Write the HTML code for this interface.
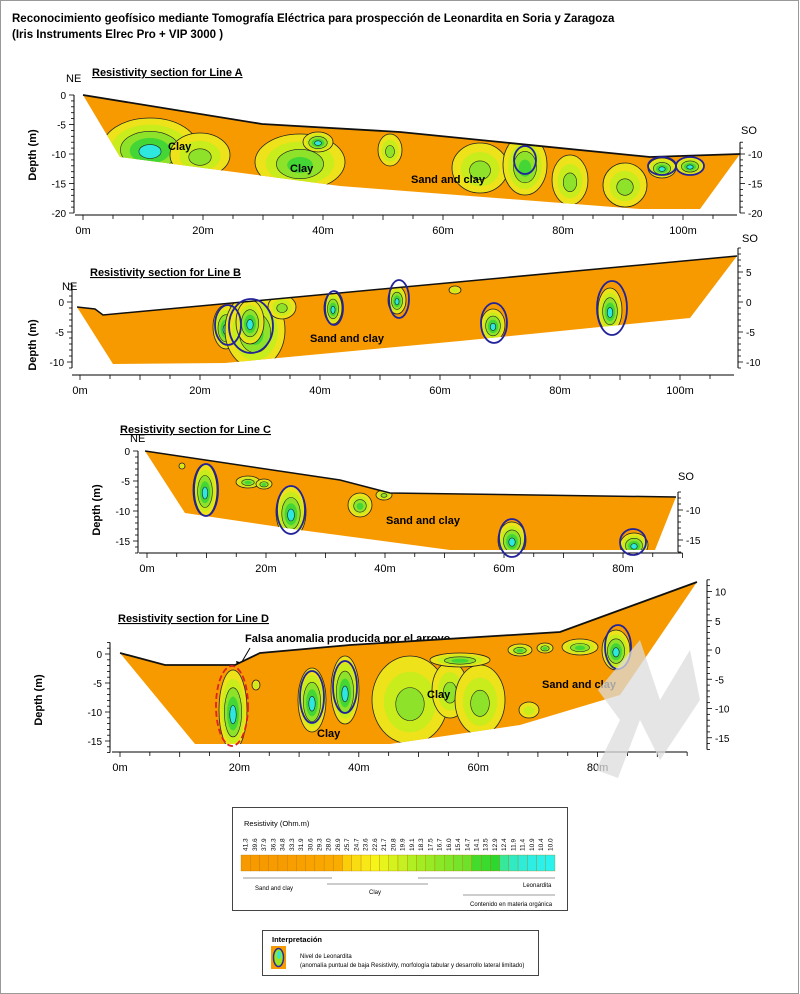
<!DOCTYPE html>
<html><head><meta charset="utf-8"><style>
body{margin:0;background:#fff}
svg{display:block;font-family:"Liberation Sans",Arial,sans-serif}
</style></head><body>
<svg id="s" width="800" height="994" viewBox="0 0 800 994" xmlns="http://www.w3.org/2000/svg">
<rect x="0.5" y="0.5" width="798" height="993" fill="#fff" stroke="#999" stroke-width="1"/>
<text x="12" y="22" font-size="11.5" font-weight="bold">Reconocimiento geofísico mediante Tomografía Eléctrica para prospección de Leonardita en Soria y Zaragoza</text>
<text x="12" y="38" font-size="11.5" font-weight="bold">(Iris Instruments Elrec Pro + VIP 3000 )</text>
<defs>
<clipPath id="cA"><polygon points="83,95 262,124 400,132 650,157 740,154 700,209 640,209 340,186 120,157"/></clipPath>
<clipPath id="cB"><polygon points="77,307 95,309 103,315 737,256 690,318 460,341 225,363 113,364"/></clipPath>
<clipPath id="cC"><polygon points="145,451 340,480 390,493 676,497 655,550 450,550 300,530 185,513"/></clipPath>
<clipPath id="cD"><polygon points="120,653 165,665 235,665 260,653 350,645 560,632 697,582 620,695 520,725 390,744 195,744"/></clipPath>
</defs>
<g id="g"></g>
<!-- watermark -->
<g fill="#dcdcdc" opacity="0.75"><polygon points="598,690 640,640 660,700 690,650 700,700 660,760 640,720 618,778 596,770 620,720"/></g>
<!-- legend -->
<rect x="232.5" y="807.5" width="335" height="103" fill="#fff" stroke="#444"/>
<text x="244" y="826" font-size="7.5">Resistivity (Ohm.m)</text>
<g id="cb"></g>
<rect x="262.5" y="930.5" width="276" height="45" fill="#fff" stroke="#444"/>
<text x="272" y="942" font-size="7.5" font-weight="bold">Interpretación</text>
<rect x="271" y="946" width="15" height="23" fill="#f79a00"/>
<ellipse cx="278.5" cy="957.5" rx="5" ry="9" fill="#9be31c" stroke="#2a2a9a" stroke-width="1.5"/>
<ellipse cx="279" cy="955" rx="2" ry="4" fill="#2ee8e0"/>
<text x="300" y="958" font-size="6">Nivel de Leonardita</text>
<text x="300" y="967" font-size="6">(anomalía puntual de baja Resistivity, morfología tabular y desarrollo lateral limitado)</text>
</svg>
<script>
const g=document.getElementById('g');
let h='';
function t(x,y,s,o){h+=`<text x="${x}" y="${y}" font-size="${o&&o.fs||10}" ${o&&o.a?'text-anchor="'+o.a+'"':''} ${o&&o.b?'font-weight="bold"':''} ${o&&o.tr?'transform="'+o.tr+'"':''} ${o&&o.u?'text-decoration="underline"':''}>${s}</text>`}
function l(a,b,c,d,w){h+=`<line x1="${a}" y1="${b}" x2="${c}" y2="${d}" stroke="#000" stroke-width="${w||1}"/>`}
function yax(x,v0,y0,ppm,vmin,vmax,side){
 let ya=y0-(vmax-v0)*ppm, yb=y0-(vmin-v0)*ppm; l(x,ya,x,yb);
 for(let v=vmin;v<=vmax;v++){let y=y0-(v-v0)*ppm;let big=v%5==0;l(x,y,x+side*(big?5:3),y,0.8);
  if(big)t(x+side*8,y+4,v,{a:side<0?'end':'start',fs:10});}
}
function xax(x0,ppm,y,max,axmax){l(x0-8,y,x0+axmax*ppm,y);
 for(let v=0;v<=axmax;v+=5){let x=x0+v*ppm;l(x,y,x,y+(v%10==0?5:4),0.8);} for(let v=0;v<=max;v+=20)t(x0+v*ppm,y+19,v+'m',{a:'middle',fs:11});}
function blob(cx,cy,rx,ry,lv,clip){ const cols=['#c8ec1c','#8fe22a','#44d634','#2ee8e0'];
 let s=`<g clip-path="url(#${clip})">`;
 s+=`<ellipse cx="${cx}" cy="${cy}" rx="${rx}" ry="${ry}" fill="#eee21a" stroke="#222" stroke-width="0.8"/>`;
 for(let i=0;i<lv;i++){let k=1-(i+1)/(lv+1.2);s+=`<ellipse cx="${cx}" cy="${cy+ry*(1-k)*0.15}" rx="${rx*k}" ry="${ry*k}" fill="${cols[i]}" ${i==1||i==3?'stroke="#222" stroke-width="0.6"':''}/>`;}
 h+=s+'</g>';}
function ov(cx,cy,rx,ry,red){h+=`<ellipse cx="${cx}" cy="${cy}" rx="${rx}" ry="${ry}" fill="none" stroke="${red?'#d22':'#22229a'}" stroke-width="1.8" ${red?'stroke-dasharray="6,3"':''}/>`}
function poly(p){h+=`<polygon points="${p}" fill="#f79a00"/>`;}
// ---- Line A
t(92,76,'Resistivity section for Line A',{fs:11,b:1,u:1});t(66,82,'NE',{fs:11});t(741,134,'SO',{fs:11});
t(36,155,'Depth (m)',{fs:11,b:1,tr:'rotate(-90 36 155)',a:'middle'});
yax(74,0,95,5.9,-20,0,-1);yax(740,-10,154,5.9,-20,-8,1);xax(83,6,215,100,109);
poly("83,95 262,124 400,132 650,157 740,154 700,209 640,209 340,186 120,157");
blob(150,148,48,30,4,'cA');blob(200,155,30,22,2,'cA');blob(300,162,45,28,3,'cA');blob(318,142,15,10,4,'cA');blob(390,150,12,16,2,'cA');
blob(480,168,28,25,2,'cA');blob(525,165,22,30,3,'cA');blob(570,180,18,25,2,'cA');blob(625,185,22,22,2,'cA');blob(662,168,14,10,4,'cA');blob(690,166,14,9,4,'cA');
h+=`<polyline points="83,95 262,124 400,132 650,157 740,154" fill="none" stroke="#111" stroke-width="1.8"/>`;
ov(525,160,11,14);ov(662,166,14,9);ov(690,166,14,9);
t(168,150,'Clay',{fs:11,b:1});t(290,172,'Clay',{fs:11,b:1});t(411,183,'Sand and clay',{fs:11,b:1});
// ---- Line B
t(90,276,'Resistivity section for Line B',{fs:11,b:1,u:1});t(62,290,'NE',{fs:11});t(742,242,'SO',{fs:11});
t(36,345,'Depth (m)',{fs:11,b:1,tr:'rotate(-90 36 345)',a:'middle'});
yax(72,0,302,6,-11,3,-1);yax(738,0,302,6,-11,9,1);xax(80,6,375,100,109);
poly("77,307 95,309 103,315 737,256 690,318 460,341 225,363 113,364");
blob(226,327,13,22,4,'cB');blob(255,330,30,38,3,'cB');blob(250,322,14,22,4,'cB');blob(282,307,14,12,2,'cB');blob(333,308,9,16,4,'cB');
blob(397,300,9,14,4,'cB');blob(455,290,6,4,1,'cB');blob(493,325,12,16,4,'cB');blob(610,310,12,22,4,'cB');
h+=`<polyline points="77,307 95,309 103,315 737,256" fill="none" stroke="#111" stroke-width="1.5"/>`;
ov(228,325,13,20);ov(251,326,22,27);ov(334,308,9,17);ov(399,299,10,19);ov(494,323,13,20);ov(612,308,15,27);
t(310,342,'Sand and clay',{fs:11,b:1});
// ---- Line C
t(120,433,'Resistivity section for Line C',{fs:11,b:1,u:1});t(130,442,'NE',{fs:11});t(678,480,'SO',{fs:11});
t(100,510,'Depth (m)',{fs:11,b:1,tr:'rotate(-90 100 510)',a:'middle'});
yax(138,0,451,6,-17,0,-1);yax(678,-10,510,6,-17,-7,1);xax(147,5.95,553,80,90);
poly("145,451 340,480 390,493 676,497 655,550 450,550 300,530 185,513");
blob(205,490,12,26,4,'cC');blob(248,482,12,6,3,'cC');blob(264,484,8,5,3,'cC');blob(291,512,15,26,4,'cC');blob(360,505,12,12,3,'cC');
blob(384,495,8,5,2,'cC');blob(512,540,14,18,4,'cC');blob(634,545,14,12,4,'cC');blob(182,466,3,3,1,'cC');
h+=`<polyline points="145,451 340,480 390,493 676,497" fill="none" stroke="#111" stroke-width="1.5"/>`;
ov(206,490,12,26);ov(291,510,14,24);ov(512,538,13,19);ov(633,542,13,13);
t(386,524,'Sand and clay',{fs:11,b:1});
// ---- Line D
t(118,622,'Resistivity section for Line D',{fs:11,b:1,u:1});t(245,642,'Falsa anomalia producida por el arroyo',{fs:11,b:1});
h+=`<line x1="250" y1="648" x2="240" y2="665" stroke="#000"/><polygon points="238,669 236,661 243,663" fill="#000"/>`;
t(42,700,'Depth (m)',{fs:11,b:1,tr:'rotate(-90 42 700)',a:'middle'});
yax(110,0,654,5.8,-17,2,-1);yax(707,0,650,5.85,-17,12,1);xax(120,5.97,752,80,95);
poly("120,653 165,665 235,665 260,653 350,645 560,632 697,582 620,695 520,725 390,744 195,744");
blob(233,710,14,40,4,'cD');blob(256,685,4,5,1,'cD');blob(312,700,14,32,4,'cD');blob(345,690,14,34,4,'cD');
blob(410,700,38,44,2,'cD');blob(450,690,18,28,2,'cD');blob(480,700,25,35,2,'cD');blob(460,660,30,7,3,'cD');
blob(520,650,12,6,3,'cD');blob(580,647,18,8,3,'cD');blob(545,648,8,5,3,'cD');blob(616,650,14,20,4,'cD');blob(529,710,10,8,1,'cD');
h+=`<polyline points="120,653 165,665 235,665 260,653 350,645 560,632 697,582" fill="none" stroke="#111" stroke-width="1.8"/>`;
ov(232,706,16,40,1);ov(312,697,12,26);ov(345,687,12,26);ov(618,647,13,22);
t(427,698,'Clay',{fs:11,b:1});t(317,737,'Clay',{fs:11,b:1});t(542,688,'Sand and clay',{fs:11,b:1});
g.innerHTML=h;
// colorbar
const vals=["41.3","39.6","37.9","36.3","34.8","33.3","31.9","30.6","29.3","28.0","26.9","25.7","24.7","23.6","22.6","21.7","20.8","19.9","19.1","18.3","17.5","16.7","16.0","15.4","14.7","14.1","13.5","12.9","12.4","11.9","11.4","10.9","10.4","10.0"];
const cols=["#f79a00","#f79a00","#f79a00","#f79b00","#f79c00","#f89e00","#f8a000","#f8a300","#f9a600","#f9a900","#f9ad00","#facf0a","#fadc12","#f8e818","#f5f51a","#e8f51c","#d4f21e","#c6f022","#b0ef22","#a2ec22","#98ea24","#8ae826","#80e628","#76e42a","#6ee22a","#44dc2c","#3ada2e","#2cd830","#38e89a","#30eac4","#2eecd8","#2ceee4","#2cf0ea","#2cf2ee"];
let c='',w=(555-241)/34;
vals.forEach((v,i)=>{let x=241+i*w;c+=`<rect x="${x}" y="855" width="${w}" height="16" fill="${cols[i]}" stroke="#b07000" stroke-width="0.3"/>`;
c+=`<text x="${x+w/2+2}" y="851" font-size="6.5" transform="rotate(-90 ${x+w/2+2} 851)">${v}</text>`;});
c+=`<line x1="243" y1="878" x2="332" y2="878" stroke="#333" stroke-width="0.6"/>`;
c+=`<line x1="327" y1="884" x2="428" y2="884" stroke="#333" stroke-width="0.6"/>`;
c+=`<line x1="418" y1="878" x2="555" y2="878" stroke="#333" stroke-width="0.6"/>`;
c+=`<line x1="463" y1="895" x2="555" y2="895" stroke="#333" stroke-width="0.6"/>`;
c+=`<text x="255" y="890" font-size="6">Sand and clay</text><text x="369" y="894" font-size="6">Clay</text><text x="523" y="887" font-size="6">Leonardita</text><text x="470" y="906" font-size="6">Contenido en materia orgánica</text>`;
document.getElementById('cb').innerHTML=c;
</script>
</body></html>
